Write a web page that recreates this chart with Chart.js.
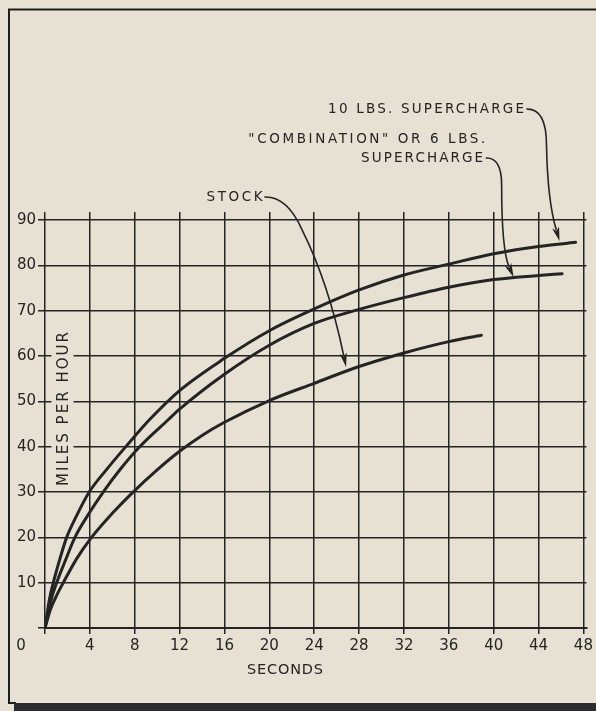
<!DOCTYPE html>
<html><head><meta charset="utf-8">
<script src="https://cdn.jsdelivr.net/npm/chart.js@4.4.0/dist/chart.umd.min.js"></script>
<style>html,body{margin:0;padding:0;background:#e7e1d3;overflow:hidden}canvas{display:block}</style>
</head><body><canvas id="c" width="596" height="711"></canvas>
<script>
// ---- data ----
const xTickValues = [0,4,8,12,16,20,24,28,32,36,40,44,48];
const yTickValues = [0,10,20,30,40,50,60,70,80,90];

const tenLbsTimes = [0,0.4,0.74,1.3,1.93,2.8,3.94,5.5,7.3,9.33,12,16,20,24,28,32,36,40,44,47.3];
const tenLbsMph   = [0,6.4,10,15,20,24.7,30,35.0,40.3,46,52.4,59.5,65.6,70.4,74.6,77.9,80.3,82.6,84.2,85.1];

const comboTimes = [0,0.5,1.04,1.8,2.67,3.9,5.19,6.8,8.44,10.96,12,16,20,24,28,32,36,40,44,46.1];
const comboMph   = [0,5.8,10,14.8,20,25.2,30,35.3,40,45.9,48.3,56,62.4,67.2,70.3,72.9,75.2,76.9,77.8,78.2];

const stockTimes = [0,0.5,1,1.63,2.8,4.15,6,7.85,10,12,14,16,20,24,28,32,36,38.9];
const stockMph   = [0,4.2,7,10,15.2,20,25.3,30,34.9,39.0,42.5,45.4,50.2,54.0,57.7,60.7,63.2,64.6];

const xTitle = 'SECONDS';
const yTitle = 'MILES PER HOUR';
const originLabel = '0';

// annotation labels (anchor in data units: seconds, mph)
const labels = [
  {text:'10 LBS. SUPERCHARGE', t:25.24, v:114.5, w:196},
  {text:'"COMBINATION" OR 6 LBS.', t:18.13, v:107.7, w:237},
  {text:'SUPERCHARGE', t:28.18, v:103.7, w:122},
  {text:'STOCK', t:14.4, v:95.1, w:56}
];
// leader curves: start, then [control, end] quadratic pairs (data units)
const leaders = [
  [[42.93,114.5],[44.71,114.7],[44.71,106.5],[44.8,94.4],[45.87,85.4]],
  [[39.29,103.7],[40.71,103.9],[40.71,97.7],[40.71,83.4],[41.78,77.4]],
  [[19.56,95.1],[21.6,95.3],[22.93,87.8],[25.3,76.0],[26.84,57.6]]
];

const ink = '#242424';
const paper = '#e7e1d3';

function pts(ts, vs){ return ts.map((t,i)=>({x:t, y:vs[i]})); }

function drawSpaced(ctx, text, left, y, targetW){
  ctx.letterSpacing = '0px';
  const w = ctx.measureText(text).width;
  const sp = Math.max(0, (targetW - w) / Math.max(1, text.length - 1));
  ctx.letterSpacing = sp.toFixed(2) + 'px';
  ctx.textAlign = 'left';
  ctx.textBaseline = 'middle';
  ctx.fillText(text, left, y);
  ctx.letterSpacing = '0px';
}

const decor = {
  id:'decor',
  beforeDraw(chart){
    const ctx = chart.ctx;
    ctx.save();
    ctx.fillStyle = paper;
    ctx.fillRect(0,0,chart.width,chart.height);
    ctx.strokeStyle = '#1e1e1e';
    ctx.lineWidth = 2;
    ctx.beginPath();
    ctx.moveTo(596,9.5); ctx.lineTo(9,9.5); ctx.lineTo(9,703); ctx.lineTo(16,703);
    ctx.stroke();
    ctx.fillStyle = '#2b2b30';
    ctx.fillRect(14,703,582,8);
    ctx.restore();
  },
  afterDraw(chart){
    const ctx = chart.ctx;
    const xs = chart.scales.x, ys = chart.scales.y;
    const P = (p)=>[xs.getPixelForValue(p[0]), ys.getPixelForValue(p[1])];
    ctx.save();
    // y title with paper behind it
    ctx.fillStyle = paper;
    ctx.fillRect(51.5, 328, 22, 162);
    ctx.font = '15px "DejaVu Sans"';
    ctx.fillStyle = ink;
    ctx.save();
    ctx.translate(64, 409);
    ctx.rotate(-Math.PI/2);
    drawSpaced(ctx, yTitle, -77, 0, 154);
    ctx.restore();
    // x title
    ctx.font = '14.5px "DejaVu Sans"';
    drawSpaced(ctx, xTitle, 285-38, 670, 76);
    // origin label
    ctx.font = '15px "DejaVu Sans"';
    ctx.letterSpacing = '0px';
    ctx.textAlign = 'center';
    ctx.textBaseline = 'middle';
    ctx.fillText(originLabel, 21, 646);
    // annotation labels
    ctx.font = '13.5px "DejaVu Sans"';
    labels.forEach(l=>{
      const [x,y] = P([l.t,l.v]);
      drawSpaced(ctx, l.text, x, y, l.w);
    });
    // leaders
    ctx.strokeStyle = ink; ctx.fillStyle = ink; ctx.lineWidth = 1.6;
    leaders.forEach(L=>{
      const p = L.map(P);
      const tip = p[p.length-1], c = p[p.length-2];
      let dx = tip[0]-c[0], dy = tip[1]-c[1];
      const len = Math.hypot(dx,dy); dx/=len; dy/=len;
      const AL = 14, AW = 3.6;
      const base = [tip[0]-dx*AL*0.8, tip[1]-dy*AL*0.8];
      ctx.beginPath();
      ctx.moveTo(p[0][0],p[0][1]);
      for(let i=1;i<p.length;i+=2){
        const end = (i+1===p.length-1) ? base : p[i+1];
        ctx.quadraticCurveTo(p[i][0],p[i][1],end[0],end[1]);
      }
      ctx.stroke();
      const nx = -dy, ny = dx;
      ctx.beginPath();
      ctx.moveTo(tip[0],tip[1]);
      ctx.lineTo(tip[0]-dx*AL+nx*AW, tip[1]-dy*AL+ny*AW);
      ctx.lineTo(tip[0]-dx*AL*0.75, tip[1]-dy*AL*0.75);
      ctx.lineTo(tip[0]-dx*AL-nx*AW, tip[1]-dy*AL-ny*AW);
      ctx.closePath();
      ctx.fill();
    });
    ctx.restore();
  }
};

const lineStyle = {borderColor: ink, borderWidth: 3, pointRadius: 0, cubicInterpolationMode: 'monotone', fill: false, borderCapStyle: 'round'};

new Chart(document.getElementById('c'), {
  type: 'line',
  data: {
    datasets: [
      Object.assign({label:'10 LBS. SUPERCHARGE', data: pts(tenLbsTimes, tenLbsMph)}, lineStyle),
      Object.assign({label:'"COMBINATION" OR 6 LBS. SUPERCHARGE', data: pts(comboTimes, comboMph)}, lineStyle),
      Object.assign({label:'STOCK', data: pts(stockTimes, stockMph)}, lineStyle)
    ]
  },
  options: {
    responsive: false,
    animation: false,
    layout: {padding: {top: 212, right: 8, left: 0, bottom: 0}},
    plugins: {legend: {display: false}, tooltip: {enabled: false}},
    scales: {
      x: {
        type: 'linear', min: 0, max: 48.27,
        afterBuildTicks: s => { s.ticks = xTickValues.map(v => ({value: v})); },
        afterFit: s => { s.height = 83; },
        ticks: {callback: v => v === 0 ? '' : String(v), color: ink, font: {family: 'DejaVu Sans', size: 15}, padding: 3, maxRotation: 0, autoSkip: false},
        grid: {color: ink, lineWidth: 1.5, tickLength: 6, tickColor: ink, tickWidth: 1.5},
        border: {color: ink, width: 2}
      },
      y: {
        type: 'linear', min: 0, max: 91.8,
        afterBuildTicks: s => { s.ticks = yTickValues.map(v => ({value: v})); },
        afterFit: s => { s.width = 45; },
        ticks: {callback: v => v === 0 ? '' : String(v), color: ink, font: {family: 'DejaVu Sans', size: 15}, padding: 2, autoSkip: false},
        grid: {color: ink, lineWidth: 1.5, tickLength: 7, tickColor: ink, tickWidth: 1.5},
        border: {display: false}
      }
    }
  },
  plugins: [decor]
});
</script>
</body></html>
